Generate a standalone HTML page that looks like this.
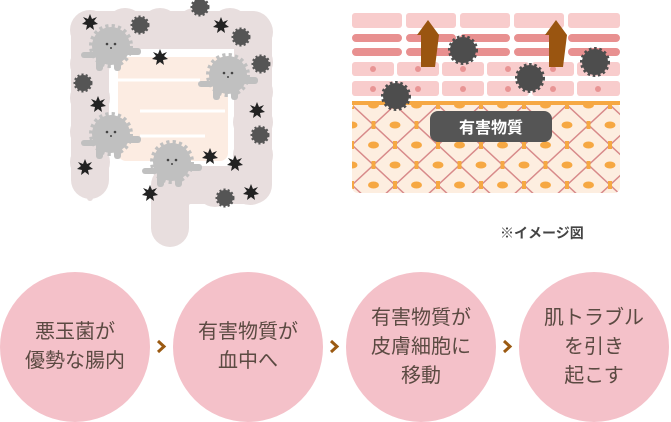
<html><head><style>
body{margin:0;width:671px;height:420px;background:#fff;overflow:hidden;position:relative;font-family:"Liberation Sans","Noto Sans CJK JP",sans-serif}
.c{position:absolute;top:272px;width:150px;height:150px;border-radius:50%;background:#f4c1c9;display:flex;align-items:center;justify-content:center;text-align:center;color:#5b4a42;font-size:20px;line-height:29px}
</style></head><body>
<svg width="671" height="420" style="position:absolute;left:0;top:0">
<defs>
<pattern id="lat" x="352" y="105" width="43" height="40" patternUnits="userSpaceOnUse">
<rect width="43" height="40" fill="#fdeee0"/>
<path d="M0 0L43 40M43 0L0 40" stroke="#d88a8a" stroke-width="1.5" fill="none"/>
<ellipse cx="0" cy="20" rx="5.5" ry="3.5" fill="#f6a843"/><ellipse cx="43" cy="20" rx="5.5" ry="3.5" fill="#f6a843"/>
<ellipse cx="21.5" cy="0" rx="5.5" ry="3.5" fill="#f6a843"/><ellipse cx="21.5" cy="40" rx="5.5" ry="3.5" fill="#f6a843"/>
<rect x="19.5" y="16" width="4" height="8" fill="#f6a843"/><rect x="-2" y="-4" width="4" height="8" fill="#f6a843"/><rect x="41" y="-4" width="4" height="8" fill="#f6a843"/><rect x="-2" y="36" width="4" height="8" fill="#f6a843"/><rect x="41" y="36" width="4" height="8" fill="#f6a843"/>
</pattern>
<g id="v"><polygon points="0,-8 2,-3 7,-5 4,-1 8,2 3,3 4,8 0,5 -4,8 -3,3 -8,2 -4,-1 -7,-5 -2,-3" fill="#222"/></g>
<g id="g"><circle r="8" fill="#555" stroke="#555" stroke-width="3" stroke-dasharray="2 2"/></g>
<g id="b"><circle r="19" fill="#c0c0c0" stroke="#c0c0c0" stroke-width="6" stroke-dasharray="3 3"/><rect x="-15" y="8" width="7" height="17" rx="3" fill="#c0c0c0"/><rect x="3" y="8" width="7" height="17" rx="3" fill="#c0c0c0"/><rect x="12" y="2" width="18" height="7" rx="3" fill="#c0c0c0"/><rect x="-30" y="6" width="16" height="6" rx="3" fill="#c0c0c0"/><circle cx="-4" cy="-2" r="1.3" fill="#444"/><circle cx="4" cy="-2" r="1.3" fill="#444"/><circle cx="0" cy="2" r="1" fill="#444"/></g>
<g id="s"><circle r="13" fill="#4d4d4d" stroke="#4d4d4d" stroke-width="4" stroke-dasharray="2.5 2.5"/></g>
</defs>
<rect x="118" y="57" width="110" height="104" fill="#fcece2" rx="8"/>
<path d="M118 80H200M140 111H225M140 136H205" stroke="#fff" stroke-width="3"/>
<path d="M90 180V30H253V185H170V228" stroke="#e8dede" stroke-width="38" fill="none" stroke-linecap="round" stroke-linejoin="round"/>
<g fill="#e8dede">
<circle cx="90" cy="30" r="20"/><circle cx="90" cy="64" r="20"/><circle cx="90" cy="98" r="20"/><circle cx="90" cy="132" r="20"/><circle cx="90" cy="162" r="20"/>
<circle cx="125" cy="28" r="20"/><circle cx="160" cy="28" r="20"/><circle cx="195" cy="28" r="20"/><circle cx="230" cy="28" r="20"/><circle cx="253" cy="32" r="20"/>
<circle cx="253" cy="62" r="20"/><circle cx="253" cy="92" r="20"/><circle cx="253" cy="122" r="20"/><circle cx="253" cy="155" r="20"/><circle cx="250" cy="185" r="20"/>
<circle cx="215" cy="187" r="20"/><circle cx="180" cy="187" r="20"/>
</g>
<path d="M90 190V198" stroke="#e8dede" stroke-width="6" stroke-linecap="round"/>
<use href="#b" x="111" y="46"/><use href="#b" x="228" y="75"/><use href="#b" x="111" y="134"/><use href="#b" x="172" y="162"/>
<use href="#v" x="90" y="22"/><use href="#v" x="221" y="25"/><use href="#v" x="160" y="57"/><use href="#v" x="98" y="104"/><use href="#v" x="257" y="110"/><use href="#v" x="210" y="156"/><use href="#v" x="235" y="163"/><use href="#v" x="85" y="167"/><use href="#v" x="150" y="193"/><use href="#v" x="251" y="192"/>
<use href="#g" x="200" y="7"/><use href="#g" x="140" y="25"/><use href="#g" x="241" y="37"/><use href="#g" x="261" y="64"/><use href="#g" x="83" y="83"/><use href="#g" x="260" y="135"/><use href="#g" x="225" y="198"/>
<rect x="352" y="103" width="268" height="90" rx="6" fill="url(#lat)"/>
<rect x="352" y="101" width="268" height="4" fill="#f6a843"/>
<g fill="#f8cccc">
<rect x="352" y="13" width="50" height="15" rx="3"/><rect x="406" y="13" width="50" height="15" rx="3"/><rect x="460" y="13" width="50" height="15" rx="3"/><rect x="514" y="13" width="50" height="15" rx="3"/><rect x="568" y="13" width="52" height="15" rx="3"/>
<rect x="352" y="62" width="42" height="14" rx="3"/><rect x="397" y="62" width="42" height="14" rx="3"/><rect x="442" y="62" width="42" height="14" rx="3"/><rect x="487" y="62" width="42" height="14" rx="3"/><rect x="532" y="62" width="42" height="14" rx="3"/><rect x="577" y="62" width="43" height="14" rx="3"/>
<rect x="352" y="81" width="42" height="15" rx="3"/><rect x="397" y="81" width="42" height="15" rx="3"/><rect x="442" y="81" width="42" height="15" rx="3"/><rect x="487" y="81" width="42" height="15" rx="3"/><rect x="532" y="81" width="42" height="15" rx="3"/><rect x="577" y="81" width="43" height="15" rx="3"/>
</g>
<g stroke="#e89090" stroke-width="8" stroke-linecap="round">
<path d="M356 38H398M410 38H452M464 38H506M518 38H560M572 38H616M356 52H398M410 52H452M464 52H506M518 52H560M572 52H616"/>
</g>
<g fill="#e89494"><circle cx="373" cy="69" r="3"/><circle cx="418" cy="69" r="3"/><circle cx="463" cy="69" r="3"/><circle cx="508" cy="69" r="3"/><circle cx="553" cy="69" r="3"/><circle cx="598" cy="69" r="3"/>
<circle cx="373" cy="89" r="3"/><circle cx="418" cy="89" r="3"/><circle cx="463" cy="89" r="3"/><circle cx="508" cy="89" r="3"/><circle cx="553" cy="89" r="3"/><circle cx="598" cy="89" r="3"/></g>
<g fill="#9a5510"><polygon points="421,67 421,35 417,35 428,20 439,35 435,67"/><polygon points="549,67 549,35 545,35 556,20 567,35 563,67"/></g>
<use href="#s" x="463" y="50"/><use href="#s" x="530" y="78"/><use href="#s" x="595" y="62"/><use href="#s" x="396" y="96"/>
<rect x="430" y="111" width="122" height="31" rx="8" fill="#555"/>
<text x="491" y="133" fill="#fff" font-size="16" font-weight="bold" text-anchor="middle" font-family="Liberation Sans,Noto Sans CJK JP,sans-serif">有害物質</text>
<text x="500" y="238" fill="#444" font-size="14" font-weight="bold" font-family="Liberation Sans,Noto Sans CJK JP,sans-serif">※イメージ図</text>
<g stroke="#9b5a12" stroke-width="3" fill="none"><path d="M158 341L164 346.5L158 352"/><path d="M331 341L337 346.5L331 352"/><path d="M504 341L510 346.5L504 352"/></g>
</svg>
<div class="c" style="left:0">悪玉菌が<br>優勢な腸内</div>
<div class="c" style="left:173px">有害物質が<br>血中へ</div>
<div class="c" style="left:346px">有害物質が<br>皮膚細胞に<br>移動</div>
<div class="c" style="left:519px">肌トラブル<br>を引き<br>起こす</div>
</body></html>
